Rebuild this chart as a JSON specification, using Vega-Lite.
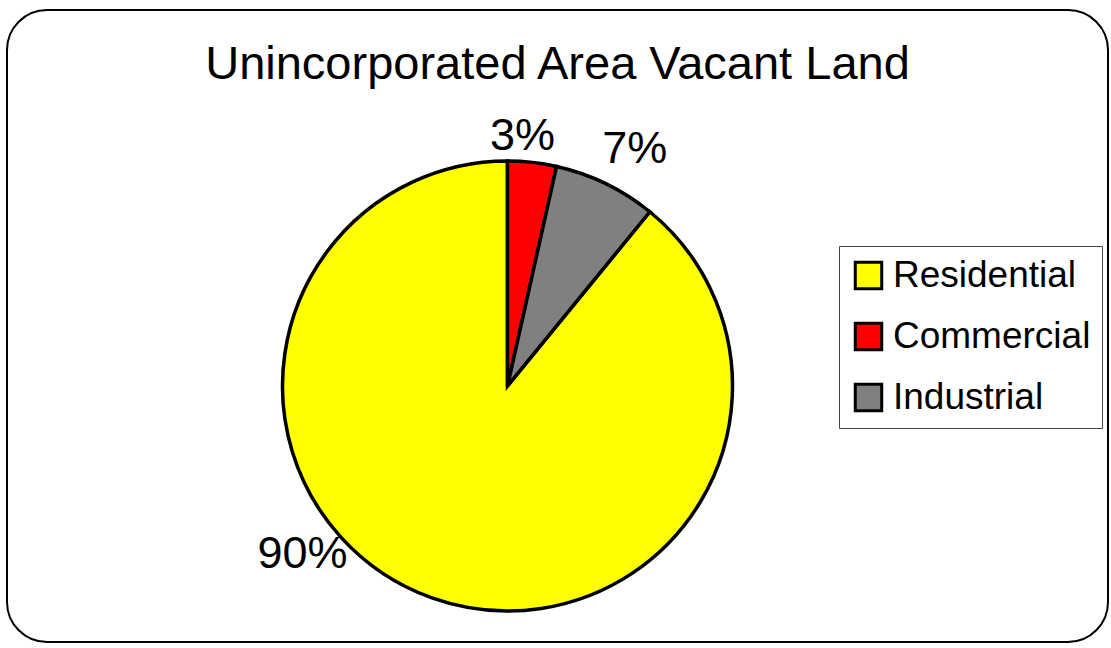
{
  "$schema": "https://vega.github.io/schema/vega-lite/v6.json",
  "width": 1101,
  "height": 632,
  "autosize": {"type": "none"},
  "padding": {"left": 7, "top": 10, "right": 3, "bottom": 6},
  "background": "white",
  "view": {"stroke": "black", "strokeWidth": 2, "cornerRadius": 40, "fill": "white"},
  "title": {
    "text": "Unincorporated Area Vacant Land",
    "fontSize": 47,
    "font": "Liberation Sans",
    "fontWeight": "normal",
    "color": "black",
    "anchor": "middle",
    "baseline": "alphabetic",
    "offset": -116,
    "frame": "group"
  },
  "config": {
    "view": {"stroke": "black", "strokeWidth": 2, "cornerRadius": 40},
    "font": "Liberation Sans"
  },
  "data": {
    "values": [
      {"category": "Residential", "value": 89.1, "label": "90%"},
      {"category": "Commercial", "value": 3.5, "label": "3%"},
      {"category": "Industrial", "value": 7.4, "label": "7%"}
    ]
  },
  "layer": [
    {
      "mark": {"type": "arc", "radius": 225, "stroke": "black", "strokeWidth": 3.5, "xOffset": -50, "yOffset": 60},
      "encoding": {
        "theta": {"field": "value", "type": "quantitative", "stack": true},
        "color": {
          "field": "category",
          "type": "nominal",
          "scale": {"domain": ["Residential", "Commercial", "Industrial"], "range": ["#ffff00", "#ff0000", "#808080"]},
          "legend": {
            "title": null,
            "orient": "none",
            "legendX": 832,
            "legendY": 236,
            "strokeColor": "#444444",
            "padding": 11,
            "symbolType": "square",
            "symbolSize": 700,
            "symbolStrokeColor": "black",
            "symbolStrokeWidth": 3,
            "symbolOpacity": 1,
            "labelFont": "Liberation Sans",
            "labelFontSize": 37,
            "labelColor": "black",
            "labelOffset": 6,
            "labelLimit": 400,
            "rowPadding": 22
          }
        },
        "order": {"field": "category", "type": "nominal", "sort": "ascending"}
      }
    },
    {
      "transform": [{"filter": "datum.category == 'Commercial'"}],
      "mark": {"type": "text", "radius": 250, "thetaOffset": -0.05, "fontSize": 45, "font": "Liberation Sans", "color": "black", "align": "center", "baseline": "middle", "xOffset": -50, "yOffset": 60},
      "encoding": {
        "theta": {"field": "value", "type": "quantitative", "stack": true},
        "text": {"field": "label", "type": "nominal"},
        "order": {"field": "category", "type": "nominal", "sort": "ascending"}
      }
    },
    {
      "transform": [{"filter": "datum.category == 'Industrial'"}],
      "mark": {"type": "text", "radius": 269, "thetaOffset": 0.26, "fontSize": 45, "font": "Liberation Sans", "color": "black", "align": "center", "baseline": "middle", "xOffset": -50, "yOffset": 60},
      "encoding": {
        "theta": {"field": "value", "type": "quantitative", "stack": true},
        "text": {"field": "label", "type": "nominal"},
        "order": {"field": "category", "type": "nominal", "sort": "ascending"}
      }
    },
    {
      "transform": [{"filter": "datum.category == 'Residential'"}],
      "mark": {"type": "text", "radius": 265, "thetaOffset": 1.227, "fontSize": 45, "font": "Liberation Sans", "color": "black", "align": "center", "baseline": "middle", "xOffset": -50, "yOffset": 60},
      "encoding": {
        "theta": {"field": "value", "type": "quantitative", "stack": true},
        "text": {"field": "label", "type": "nominal"},
        "order": {"field": "category", "type": "nominal", "sort": "ascending"}
      }
    }
  ]
}
